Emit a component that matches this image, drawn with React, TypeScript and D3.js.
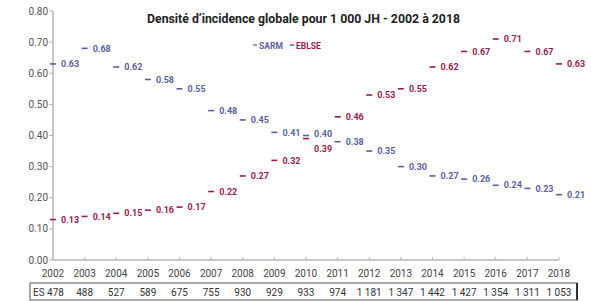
import React from "react";
import * as d3 from "d3";

const years = [2002, 2003, 2004, 2005, 2006, 2007, 2008, 2009, 2010, 2011, 2012, 2013, 2014, 2015, 2016, 2017, 2018];
const sarm = [0.63, 0.68, 0.62, 0.58, 0.55, 0.48, 0.45, 0.41, 0.40, 0.38, 0.35, 0.30, 0.27, 0.26, 0.24, 0.23, 0.21];
const eblse = [0.13, 0.14, 0.15, 0.16, 0.17, 0.22, 0.27, 0.32, 0.39, 0.46, 0.53, 0.55, 0.62, 0.67, 0.71, 0.67, 0.63];
const esCounts = ["478", "488", "527", "589", "675", "755", "930", "929", "933", "974", "1 181", "1 347", "1 442", "1 427", "1 354", "1 311", "1 053"];
const yTicks = [0, 0.1, 0.2, 0.3, 0.4, 0.5, 0.6, 0.7, 0.8];
const title = "Densité d\u2019incidence globale pour 1 000 JH - 2002 à 2018";

const W = 591;
const H = 301;
const BLUE = "#5a5fa6";
const RED = "#9c1c50";
const FONT = "Roboto, 'DejaVu Sans', sans-serif";

export default function App() {
    const x = d3.scaleLinear().domain([2002, 2018]).range([53, 559]);
    const y = d3.scaleLinear().domain([0, 0.8]).range([260, 11]);

    const series = [
        { name: "SARM", values: sarm, color: BLUE },
        { name: "EBLSE", values: eblse, color: RED },
    ];

    // when both values nearly coincide, push labels apart
    const labelY = (si: number, i: number) => {
        const v = series[si].values[i];
        const close = Math.abs(sarm[i] - eblse[i]) < 0.03;
        if (!close) return y(v);
        return si === 0 ? y(v) - 1.5 : y(v) + 10;
    };

    return (
        <svg width={W} height={H} style={{ position: "absolute", left: 0, top: 0, background: "#fff" }} fontFamily={FONT}>
            {/* title */}
            <text x={147} y={23} fontSize={12} fontWeight={700} fill="#222" textLength={313} lengthAdjust="spacingAndGlyphs">
                {title}
            </text>

            {/* y axis */}
            <line x1={53} x2={53} y1={y(0.8)} y2={y(0)} stroke="#b5b5b5" strokeWidth={1.5} />
            {yTicks.map(t => (
                <g key={t}>
                    <line x1={49} x2={53} y1={y(t)} y2={y(t)} stroke="#b5b5b5" strokeWidth={1} />
                    <text x={48} y={y(t)} dy="0.35em" textAnchor="end" fontSize={10} fill="#555">
                        {d3.format(".2f")(t)}
                    </text>
                </g>
            ))}

            {/* x axis */}
            <line x1={53} x2={559} y1={y(0)} y2={y(0)} stroke="#b5b5b5" strokeWidth={1.5} />
            {years.map(yr => (
                <g key={yr}>
                    <line x1={x(yr)} x2={x(yr)} y1={y(0) - 3} y2={y(0)} stroke="#b5b5b5" strokeWidth={1} />
                    <text x={x(yr)} y={277} textAnchor="middle" fontSize={10} fill="#444">
                        {yr}
                    </text>
                </g>
            ))}

            {/* legend */}
            <line x1={253} x2={257} y1={45} y2={45} stroke={BLUE} strokeWidth={1.3} />
            <text x={259} y={48.5} fontSize={8.5} fontWeight={700} fill={BLUE}>SARM</text>
            <line x1={290} x2={294} y1={45} y2={45} stroke={RED} strokeWidth={1.3} />
            <text x={296} y={48.5} fontSize={8.5} fontWeight={700} fill={RED}>EBLSE</text>

            {/* points */}
            {series.map((s, si) => (
                <g key={s.name}>
                    {s.values.map((v, i) => (
                        <g key={i}>
                            <line x1={x(years[i]) - 3} x2={x(years[i]) + 3} y1={y(v)} y2={y(v)} stroke={s.color} strokeWidth={1.6} />
                            <text x={x(years[i]) + 8} y={labelY(si, i)} dy="0.35em" fontSize={9} fontWeight={700} fill={s.color}>
                                {d3.format(".2f")(v)}
                            </text>
                        </g>
                    ))}
                </g>
            ))}

            {/* ES table */}
            <rect x={30} y={283} width={547} height={17} fill="none" stroke="#555" strokeWidth={1} />
            <line x1={577} x2={577} y1={283} y2={300} stroke="#333" strokeWidth={2} />
            {esCounts.map((c, i) => (
                <text key={i} x={i === 0 ? 33 : x(years[i])} y={295.5} textAnchor={i === 0 ? "start" : "middle"} fontSize={10} fill="#333">
                    {i === 0 ? `ES ${c}` : c}
                </text>
            ))}
        </svg>
    );
}
